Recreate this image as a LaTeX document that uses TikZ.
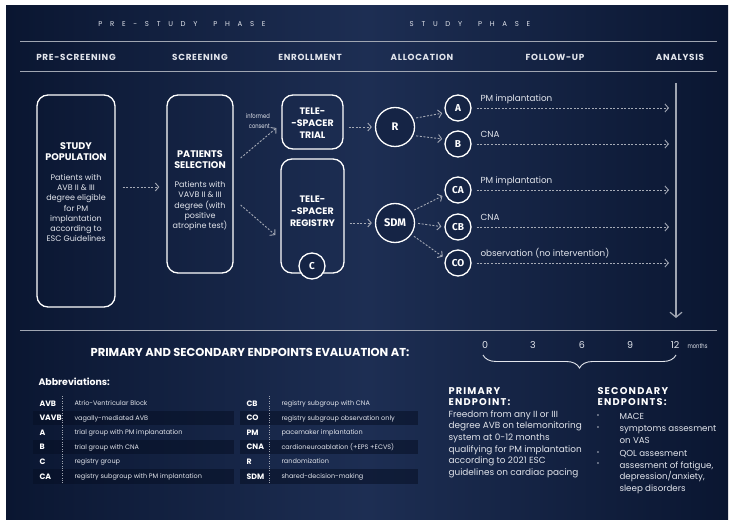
\documentclass[tikz,border=0pt]{standalone}
\usepackage{fontspec}
\setmainfont{Poppins}
\newfontfamily\hdfont{Fira Sans}
\usetikzlibrary{arrows.meta,calc,decorations.pathreplacing}
\definecolor{bgdark}{RGB}{10,22,49}
\definecolor{bglight}{RGB}{29,46,83}
\definecolor{rulegray}{RGB}{160,166,178}
\definecolor{dashgray}{RGB}{165,170,182}
\definecolor{bodytxt}{RGB}{226,229,236}
\definecolor{bandc}{RGB}{6,15,36}
\tikzset{
  phase/.style={font=\fontsize{7}{8}\selectfont\addfontfeature{LetterSpace=110}, text=bodytxt},
  colhd/.style={font=\fontsize{8.8}{10}\bfseries\selectfont\addfontfeature{LetterSpace=8}, text=bodytxt},
  rulel/.style={draw=rulegray, line width=1pt},
  box/.style={draw=white, line width=1.3pt, rounded corners=11pt},
  btitle/.style={font=\fontsize{9.6}{11.2}\bfseries\selectfont, align=center, text=white},
  bbody/.style={font=\fontsize{8}{10.2}\selectfont, align=center, text=bodytxt},
  tstitle/.style={font=\fontsize{9.4}{12}\bfseries\selectfont, align=center, text=white},
  circ/.style={circle, draw=white, line width=1.3pt, fill=bglight!60!bgdark, inner sep=0pt, text=white},
  bigc/.style={circ, minimum size=39pt, font=\hdfont\fontsize{11}{12}\bfseries\selectfont},
  smc/.style={circ, minimum size=26pt, font=\hdfont\fontsize{10}{11}\bfseries\selectfont},
  dar/.style={draw=dashgray, line width=0.9pt, dash pattern=on 2pt off 1.6pt, -{Straight Barb[length=3.5pt,width=8pt,line width=0.9pt]}},
  flab/.style={font=\fontsize{8.8}{9}\selectfont, text=bodytxt, anchor=base west},
  small/.style={font=\fontsize{6.5}{10}\selectfont, text=bodytxt, align=right},
  tnum/.style={font=\fontsize{9.5}{10}\selectfont, text=bodytxt},
  ephd/.style={font=\fontsize{9.8}{11}\bfseries\selectfont\addfontfeature{LetterSpace=12}, text=white, align=left, anchor=north west},
  epbody/.style={font=\fontsize{8.9}{11.6}\selectfont, text=bodytxt, align=left, anchor=north west},
  sebody/.style={font=\fontsize{8.7}{11.6}\selectfont, text=bodytxt, align=left, anchor=north west},
  abbr/.style={font=\fontsize{7.8}{9}\bfseries\selectfont, text=white, anchor=base west},
  abdesc/.style={font=\fontsize{6.5}{9}\selectfont, text=bodytxt, anchor=base west},
  band/.style={fill=bandc, fill opacity=0.55},
  sepdot/.style={draw=rulegray, line width=0.5pt, dash pattern=on 0.8pt off 1.6pt},
}
\begin{document}
\begin{tikzpicture}[x=1pt,y=-1pt]
\useasboundingbox (0,0) rectangle (735,526);
\fill[white] (0,0) rectangle (735,526);
\shade[left color=bgdark, right color=bgdark, middle color=bglight] (6,6) rectangle (728,519);

% phase titles
\node[phase] (pre) at (182,24) {PRE-STUDY\kern 16pt PHASE};
\node[phase] (stu) at (470,24) {STUDY\kern 16pt PHASE};
\draw[rulel] (20,42) -- (717,42);
\draw[rulel] (20,72) -- (717,72);

% column headers
\node[colhd] (h1) at (76,57) {PRE-SCREENING};
\node[colhd] (h2) at (200,57) {SCREENING};
\node[colhd] (h3) at (310,57) {ENROLLMENT};
\node[colhd] (h4) at (422,57) {ALLOCATION};
\node[colhd] (h5) at (555,57) {FOLLOW-UP};
\node[colhd] (h6) at (680,57) {ANALYSIS};

% boxes
\node[box, minimum width=78pt, minimum height=212pt] (sp) at (76,201) {};
\node[btitle] (spt) at (76,152) {STUDY\\POPULATION};
\node[bbody] (spb) at (76,208) {Patients with\\AVB II \& III\\degree eligible\\for PM\\implantation\\according to\\ESC Guidelines};

\node[box, minimum width=66pt, minimum height=178pt] (ps) at (200,184) {};
\node[btitle] (pst) at (200,160) {PATIENTS\\SELECTION};
\node[bbody] (psb) at (200,206) {Patients with\\VAVB II \& III\\degree (with\\positive\\atropine test)};

\node[box, minimum width=61pt, minimum height=54pt] (trial) at (312.5,122) {};
\node[tstitle] (trt) at (312.5,123) {TELE-\\-SPACER\\TRIAL};

\node[box, minimum width=63pt, minimum height=114pt] (reg) at (312.5,216) {};
\node[tstitle] (rgt) at (312.5,211) {TELE-\\-SPACER\\REGISTRY};
\node[smc] (C) at (312,266) {C};

\node[small] (inf) at (258,121) {\scalebox{0.8}[1]{informed}\\\scalebox{0.8}[1]{consent}};

% allocation circles
\node[bigc] (R) at (395,127) {R};
\node[bigc] (SDM) at (395,223) {SDM};
\node[smc] (A) at (458,108) {A};
\node[smc] (B) at (458,144) {B};
\node[smc] (CA) at (458,190) {CA};
\node[smc] (CB) at (458,227) {CB};
\node[smc] (CO) at (458,263) {CO};

% end coordinates
\coordinate (eA) at (669,108);
\coordinate (eB) at (669,144);
\coordinate (eCA) at (669,190);
\coordinate (eCB) at (669,227);
\coordinate (eCO) at (669,263);
\coordinate (vtop) at (676,83);
\coordinate (vbot) at (676,318);

% connectors
\draw[dar] ($(sp.east)+(7,-14)$) -- ($(ps.west)+(-7,3)$);
\draw[dar] ($(ps.east)+(7,-26)$) -- ($(trial.west)+(-5,6)$);
\draw[dar] ($(ps.east)+(7,21)$) -- ($(reg.west)+(-5,19)$);
\draw[dar] ($(trial.east)+(5,5)$) -- ($(R.west)+(-3,0)$);
\draw[dar] ($(reg.east)+(5,7)$) -- ($(SDM.west)+(-3,0)$);
\draw[dar, shorten <=3pt, shorten >=3pt] (R.25) -- (A.200);
\draw[dar, shorten <=3pt, shorten >=3pt] (R.-25) -- (B.160);
\draw[dar, shorten <=3pt, shorten >=3pt] (SDM.35) -- (CA.200);
\draw[dar, shorten <=3pt, shorten >=3pt] (SDM.east) -- (CB.west);
\draw[dar, shorten <=3pt, shorten >=3pt] (SDM.-35) -- (CO.160);
\draw[dar, shorten <=5pt] (A.east) -- (eA);
\draw[dar, shorten <=5pt] (B.east) -- (eB);
\draw[dar, shorten <=5pt] (CA.east) -- (eCA);
\draw[dar, shorten <=5pt] (CB.east) -- (eCB);
\draw[dar, shorten <=5pt] (CO.east) -- (eCO);

\node[flab] (lA) at (477,102) {PM implantation};
\node[flab] (lB) at (477,138) {CNA};
\node[flab] (lCA) at (477,184) {PM implantation};
\node[flab] (lCB) at (477,221) {CNA};
\node[flab] (lCO) at (477,257) {observation (no intervention)};

\draw[draw=rulegray, line width=1.2pt, -{Straight Barb[length=5pt,width=12pt,line width=1.2pt]}] (vtop) -- (vbot);

% lower part
\draw[rulel] (20,330) -- (717,330);
\node[font=\fontsize{11.5}{12}\bfseries\selectfont, text=white] (eval) at (250,352) {PRIMARY AND SECONDARY ENDPOINTS EVALUATION AT:};

\node[tnum] (n0) at (485,345) {0};
\node[tnum] (n3) at (533,345) {3};
\node[tnum] (n6) at (582,345) {6};
\node[tnum] (n9) at (630,345) {9};
\node[tnum] (n12) at (675,345) {12};
\node[font=\fontsize{6.5}{8}\selectfont, text=bodytxt, anchor=west] (mon) at (684,346) {\scalebox{0.8}[1]{months}};
\draw[draw=bodytxt, line width=0.9pt, decorate, decoration={brace, amplitude=13pt, mirror}] (483,355) -- (676,355);

\node[font=\fontsize{9.4}{11}\bfseries\selectfont, text=white, anchor=west] (abh) at (35,382) {Abbreviations:};

\foreach \ab/\de [count=\i] in {AVB/Atrio-Ventricular Block, VAVB/vagally-mediated AVB, A/trial group with PM implanatation, B/trial group with CNA, C/registry group, CA/registry subgroup with PM implantation}{
  \pgfmathsetmacro\yy{403+(\i-1)*14.6}
  \ifodd\i\else \fill[band] (33,\yy-7) rectangle (234,\yy+7.5); \fi
  \node[abbr] (la\i) at (36,\yy+3) {\ab};
  \node[abdesc] (ld\i) at (71,\yy+2.5) {\de};
}
\foreach \ab/\de [count=\i] in {CB/registry subgroup with CNA, CO/registry subgroup observation only, PM/pacemaker implantation, CNA/cardioneuroablation (+EPS +ECVS), R/randomization, SDM/shared-decision-making}{
  \pgfmathsetmacro\yy{403+(\i-1)*14.6}
  \ifodd\i\else \fill[band] (240,\yy-7) rectangle (418,\yy+7.5); \fi
  \node[abbr] (ra\i) at (243,\yy+3) {\ab};
  \node[abdesc] (rd\i) at (278,\yy+2.5) {\de};
}
\draw[sepdot] (62,396) -- (62,484);
\draw[sepdot] (269,396) -- (269,484);

\node[ephd] (peh) at (445,384) {PRIMARY\\ENDPOINT:};
\node[epbody] (peb) at (445,407) {Freedom from any II or III\\degree AVB on telemonitoring\\system at 0-12 months\\qualifying for PM implantation\\according to 2021 ESC\\guidelines on cardiac pacing};

\node[ephd] (seh) at (594,384) {SECONDARY\\ENDPOINTS:};
\foreach \yb/\txt [count=\i] in {410/MACE, 422/{symptoms assesment\\on VAS}, 447/QOL assesment, 458/{assesment of fatigue,\\depression/anxiety,\\sleep disorders}}{
  \node[font=\fontsize{6}{7}\selectfont, text=bodytxt] (bu\i) at (598,\yb+6.5) {\textbullet};
  \node[sebody] (se\i) at (616,\yb) {\txt};
}
\end{tikzpicture}
\end{document}
